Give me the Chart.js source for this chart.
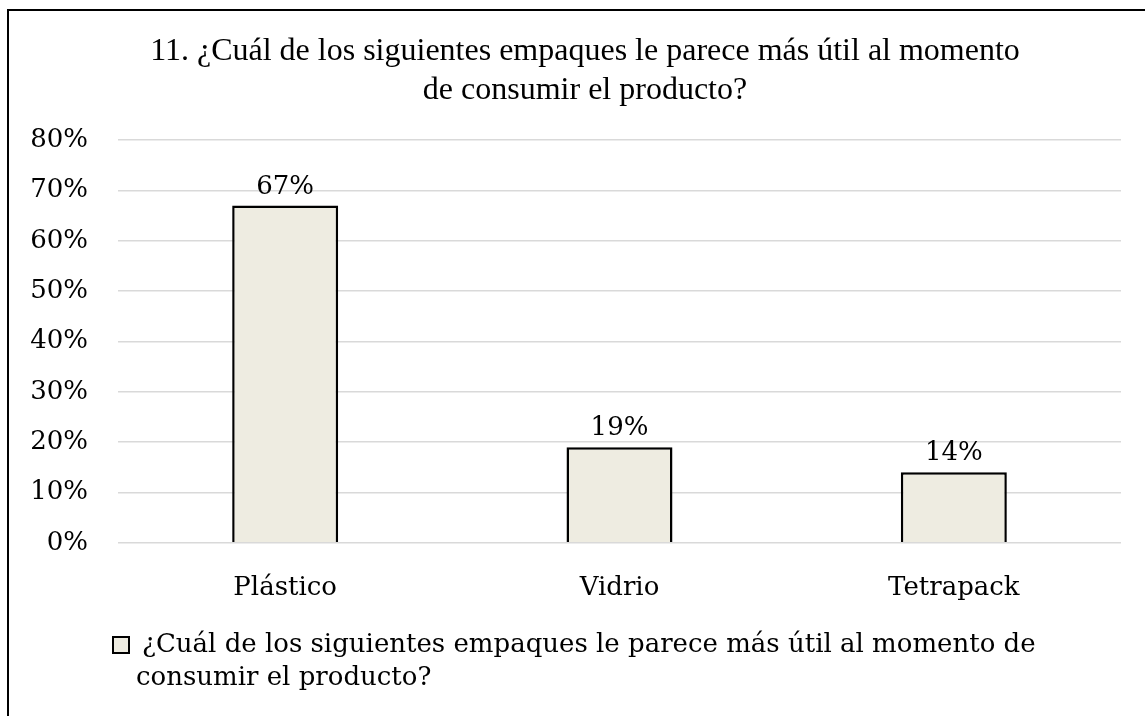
<!DOCTYPE html>
<html>
<head>
<meta charset="utf-8">
<script src="https://cdn.jsdelivr.net/npm/chart.js@4/dist/chart.umd.min.js"></script>
<style>
  html, body { margin: 0; padding: 0; background: #fff; overflow: hidden; }
  #frame { position: absolute; left: 7px; top: 9px; width: 1152px; height: 705px; border: 2px solid #000; }
  #frame canvas { display: block; }
</style>
</head>
<body>
<div id="frame"><canvas id="chart" width="1152" height="705"></canvas></div>
<script>
const categories = ['Plástico', 'Vidrio', 'Tetrapack'];
const values = [67, 19, 14];
const seriesName = '¿Cuál de los siguientes empaques le parece más útil al momento de consumir el producto?';
const titleLines = ['11. ¿Cuál de los siguientes empaques le parece más útil al momento', 'de consumir el producto?'];

const serif = 'DejaVu Serif';
const fill = '#eeece1';

// value labels above each bar
const barLabels = {
  id: 'barLabels',
  afterDatasetsDraw(chart) {
    const ctx = chart.ctx;
    const meta = chart.getDatasetMeta(0);
    ctx.save();
    ctx.font = '26px "' + serif + '"';
    ctx.fillStyle = '#000';
    ctx.textAlign = 'center';
    ctx.textBaseline = 'alphabetic';
    meta.data.forEach((bar, i) => {
      ctx.fillText(values[i] + '%', bar.x, bar.y - 12);
    });
    ctx.restore();
  }
};

// legend with wrapped text, drawn under the x axis
const wrapLegend = {
  id: 'wrapLegend',
  afterDraw(chart) {
    const ctx = chart.ctx;
    const ds = chart.data.datasets[0];
    ctx.save();
    ctx.font = '26px "' + serif + '"';
    ctx.fillStyle = '#000';
    ctx.textBaseline = 'middle';
    const words = ds.label.split(' ');
    const lines = [];
    let cur = '';
    words.forEach(w => {
      const test = cur ? cur + ' ' + w : w;
      if (ctx.measureText(test).width > 900 && cur) {
        lines.push(cur);
        cur = w;
      } else {
        cur = test;
      }
    });
    lines.push(cur);

    const y1 = chart.height - 71;
    ctx.fillStyle = ds.backgroundColor;
    ctx.fillRect(104, y1 - 8, 16, 16);
    ctx.strokeStyle = '#000';
    ctx.lineWidth = 2;
    ctx.strokeRect(104, y1 - 8, 16, 16);

    ctx.fillStyle = '#000';
    lines.forEach((l, i) => {
      ctx.fillText(l, i === 0 ? 133 : 127, y1 + i * 33);
    });
    ctx.restore();
  }
};

new Chart(document.getElementById('chart'), {
  type: 'bar',
  data: {
    labels: categories,
    datasets: [{
      label: seriesName,
      data: values,
      backgroundColor: fill,
      borderColor: '#000',
      borderWidth: 2.5,
      barPercentage: 0.317,
      categoryPercentage: 1
    }]
  },
  options: {
    responsive: false,
    animation: false,
    layout: { padding: { left: 0, right: 0, top: 0, bottom: 90 } },
    plugins: {
      legend: { display: false },
      tooltip: { enabled: false },
      title: {
        display: true,
        text: titleLines,
        color: '#000',
        font: { family: 'Liberation Serif', size: 32, weight: 'normal', lineHeight: 1.19 },
        padding: { top: 22, bottom: 31 }
      }
    },
    scales: {
      x: {
        grid: { display: false },
        border: { display: false },
        ticks: { color: '#000', padding: 22, font: { family: serif, size: 26 } }
      },
      y: {
        min: 0,
        max: 80,
        ticks: {
          stepSize: 10,
          color: '#000',
          padding: 30,
          font: { family: serif, size: 26 },
          callback: v => v + '%'
        },
        grid: { color: '#d9d9d9', lineWidth: 1.5, drawTicks: false },
        border: { display: false },
        afterFit: scale => { scale.width = 109; }
      },
      // empty right-hand axis, only keeps the plot clear of the right edge
      yRight: {
        axis: 'y',
        position: 'right',
        ticks: { display: false },
        grid: { display: false },
        border: { display: false },
        afterFit: scale => { scale.width = 40; }
      }
    }
  },
  plugins: [barLabels, wrapLegend]
});
</script>
</body>
</html>
